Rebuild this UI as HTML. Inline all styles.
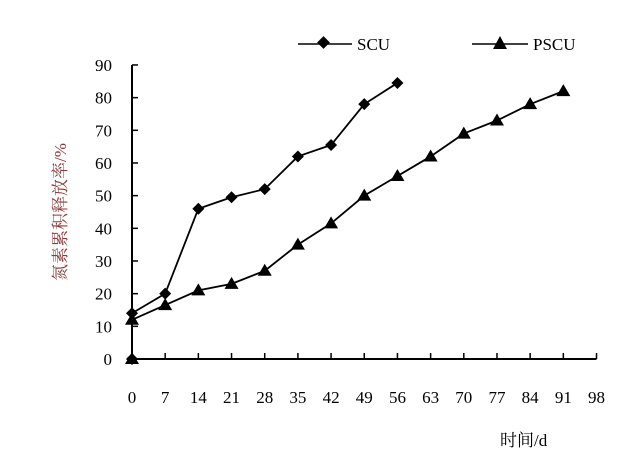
<!DOCTYPE html>
<html><head><meta charset="utf-8"><style>
body{margin:0;background:#fff;}
text{font-family:"Liberation Serif","Noto Serif CJK SC",serif;font-size:17px;fill:#000;}
</style></head><body>
<svg width="631" height="467">
<g id="axes"></g><g id="series"></g>
<g>
<line x1="298" y1="44" x2="352" y2="44" stroke="#000" stroke-width="1.5"/>
<rect x="319" y="38" width="9" height="9" transform="rotate(45 323.5 42.5)" fill="#000"/>
<text x="357" y="50">SCU</text>
<line x1="472" y1="44" x2="528" y2="44" stroke="#000" stroke-width="1.5"/>
<polygon points="500,36 507,49 493,49" fill="#000"/>
<text x="533" y="50">PSCU</text>
</g>
<text x="500" y="446">时间/d</text>
<text transform="translate(66,212) rotate(-90)" text-anchor="middle" style="fill:#8b3a3a">氮素累积释放率/%</text>
</svg>
<script>
const xTicks=[0,7,14,21,28,35,42,49,56,63,70,77,84,91,98];
const yTicks=[0,10,20,30,40,50,60,70,80,90];
const scuDays=[0,0,7,14,21,28,35,42,49,56];
const scuVals=[0,14,20,46,49.5,52,62,65.5,78,84.5];
const pscuDays=[0,0,7,14,21,28,35,42,49,56,63,70,77,84,91];
const pscuVals=[0,12,16.5,21,23,27,35,41.5,50,56,62,69,73,78,82];
const X=d=>132+d*4.74, Y=v=>359-v*3.267;
const NS="http://www.w3.org/2000/svg";
function mk(p,t,a){const e=document.createElementNS(NS,t);for(const k in a)e.setAttribute(k,a[k]);p.appendChild(e);return e;}
const ax=document.getElementById('axes');
let l=mk(ax,'line',{x1:X(0),y1:Y(0),x2:X(98),y2:Y(0),stroke:'#000','stroke-width':2});


l=mk(ax,'line',{x1:X(0),y1:Y(0),x2:X(0),y2:Y(90),stroke:'#000','stroke-width':2});


xTicks.forEach(t=>{mk(ax,'line',{x1:X(t),y1:Y(0),x2:X(t),y2:Y(0)-6,stroke:'#000','stroke-width':1.5});
const e=mk(ax,'text',{x:X(t),y:403,'text-anchor':'middle'});e.textContent=t;

});
yTicks.forEach(t=>{mk(ax,'line',{x1:X(0),y1:Y(t),x2:X(0)+6,y2:Y(t),stroke:'#000','stroke-width':1.5});
const e=mk(ax,'text',{x:112,y:Y(t)+6,'text-anchor':'end'});e.textContent=t;

});
const sg=document.getElementById('series');
function line(ds,vs,name){const p=mk(sg,'polyline',{points:ds.map((d,i)=>X(d)+','+Y(vs[i])).join(' '),fill:'none',stroke:'#000','stroke-width':1.8});

}
line(scuDays,scuVals,'scu-line');
line(pscuDays,pscuVals,'pscu-line');
scuDays.forEach((d,i)=>{const x=X(d),y=Y(scuVals[i]);const r=mk(sg,'polygon',{points:`${x},${y-6} ${x+6},${y} ${x},${y+6} ${x-6},${y}`,fill:'#000'});

});
pscuDays.forEach((d,i)=>{const x=X(d),y=Y(pscuVals[i]);const r=mk(sg,'polygon',{points:`${x},${y-7} ${x+7},${y+5} ${x-7},${y+5}`,fill:'#000'});

});
</script>
</body></html>
